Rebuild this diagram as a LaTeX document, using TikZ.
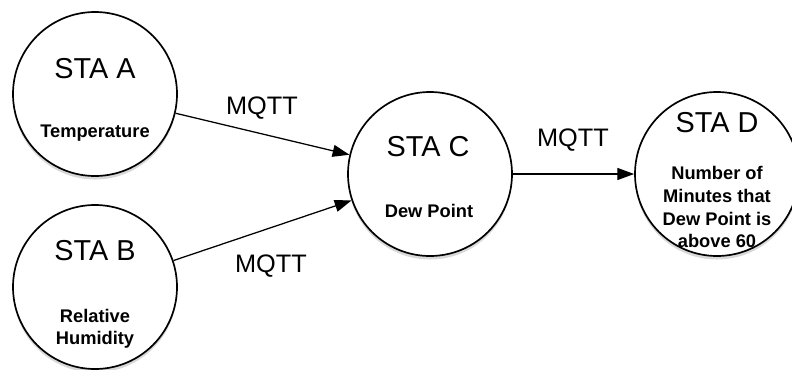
\documentclass[tikz,border=0pt]{standalone}
\usepackage{fontspec}
\setmainfont{Liberation Sans}
\usetikzlibrary{positioning,arrows.meta,shadows}

\begin{document}
\begin{tikzpicture}[
  sta/.style={draw, circle, line width=1.2pt, fill=white, minimum size=4.1cm, inner sep=0pt,
    drop shadow={shadow xshift=0pt, shadow yshift=-2.5pt, opacity=0.3}},
  title/.style={anchor=base, font=\fontsize{20.5}{24}\selectfont},
  info/.style={anchor=base, align=center, font=\fontsize{13}{16.3}\selectfont\bfseries},
  lab/.style={anchor=base, font=\fontsize{18}{21}\selectfont},
  link/.style={-{Triangle[length=0.42cm, width=0.3cm]}, line width=0.9pt}]
  \useasboundingbox (0,0) rectangle (19.8,9.225);
  % stations
  \node[sta] (a) at (2.375,6.875) {};
  \node[sta] (b) at (2.375,2.05) {};
  \node[sta] (c) at (10.75,4.875) {};
  \node[sta] (d) at (17.925,4.875) {};
  % texts
  \node[title] (at) at (2.375,7.275) {STA A};
  \node[info] (ai) at (2.375,5.8) {Temperature};
  \node[title] (bt) at (2.375,2.725) {STA B};
  \node[info, anchor=north] (bi) at (2.375,1.63) {Relative\\ Humidity};
  \node[title] (ct) at (10.7,5.325) {STA C};
  \node[info, anchor=north] (ci) at (10.725,4.25) {Dew Point};
  \node[title] (dt) at (17.925,5.925) {STA D};
  \node[info, anchor=north] (di) at (17.925,5.2) {Number of\\ Minutes that\\ Dew Point is\\ above 60};
  % links
  \draw[link] (a) -- (c);
  \draw[link] (b) -- (c);
  \draw[link] (c) -- (d);
  \node[lab] (l1) at (6.55,6.375) {MQTT};
  \node[lab] (l2) at (6.775,2.425) {MQTT};
  \node[lab] (l3) at (14.325,5.575) {MQTT};
\end{tikzpicture}
\end{document}
